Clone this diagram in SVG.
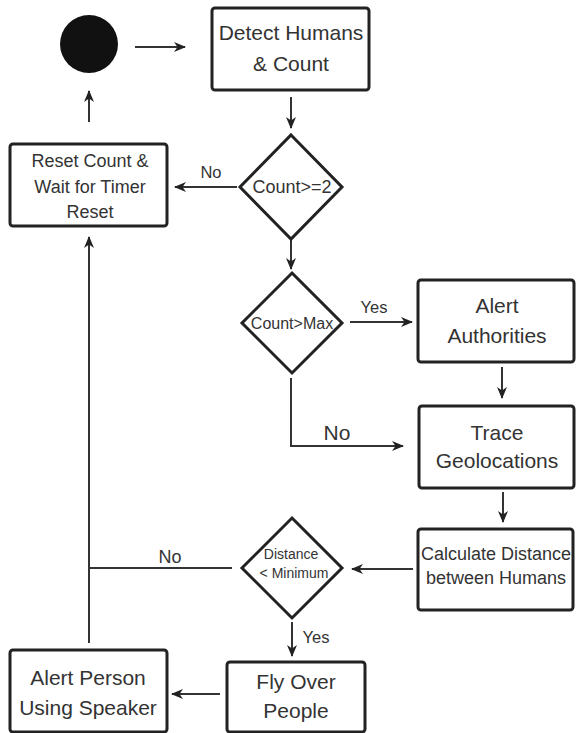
<svg xmlns="http://www.w3.org/2000/svg" width="576" height="733" viewBox="0 0 576 733">
  <style>
    .box { fill: #fff; stroke: #222; stroke-width: 3; }
    .dia { fill: #fff; stroke: #222; stroke-width: 3; stroke-linejoin: miter; }
    .conn { fill: none; stroke: #333; stroke-width: 2; }
    text { font-family: "Liberation Sans", Arial, sans-serif; fill: #333; text-anchor: middle; }
    .big { font-size: 21px; }
    .mid { font-size: 18px; }
    .lbl { font-size: 16.5px; }
  </style>
  <defs>
    <marker id="arrow" viewBox="0 0 12 10" refX="11" refY="5" markerWidth="12" markerHeight="10" markerUnits="userSpaceOnUse" orient="auto">
      <path d="M0,0 L12,5 L0,10 L3.5,5 z" fill="#222"/>
    </marker>
  </defs>

  <rect width="576" height="733" fill="#fff"/>

  <!-- connectors -->
  <g id="connectors">
    <line class="conn" x1="135" y1="47" x2="185" y2="47" marker-end="url(#arrow)"/>
    <line class="conn" x1="291" y1="97" x2="291" y2="128" marker-end="url(#arrow)"/>
    <line class="conn" x1="237" y1="187" x2="175" y2="187" marker-end="url(#arrow)"/>
    <line class="conn" x1="89" y1="122" x2="89" y2="91" marker-end="url(#arrow)"/>
    <line class="conn" x1="291" y1="239" x2="291" y2="269" marker-end="url(#arrow)"/>
    <line class="conn" x1="350" y1="322" x2="412" y2="322" marker-end="url(#arrow)"/>
    <path class="conn" d="M291,378 V446 H403" marker-end="url(#arrow)"/>
    <line class="conn" x1="502" y1="367" x2="502" y2="398" marker-end="url(#arrow)"/>
    <line class="conn" x1="503" y1="492" x2="503" y2="522" marker-end="url(#arrow)"/>
    <line class="conn" x1="413" y1="569" x2="352" y2="569" marker-end="url(#arrow)"/>
    <line class="conn" x1="232" y1="568" x2="89" y2="568"/>
    <line class="conn" x1="89" y1="643" x2="89" y2="237" marker-end="url(#arrow)"/>
    <line class="conn" x1="292" y1="622" x2="292" y2="656" marker-end="url(#arrow)"/>
    <line class="conn" x1="220" y1="694" x2="172" y2="694" marker-end="url(#arrow)"/>
    <text class="lbl" x="211" y="178">No</text>
    <text class="lbl" x="374" y="313">Yes</text>
    <text class="big" x="337" y="440">No</text>
    <text class="mid" x="170" y="563">No</text>
    <text class="lbl" x="316" y="643">Yes</text>
  </g>

  <g id="start">
    <circle cx="89" cy="44" r="29" fill="#111"/>
  </g>

  <g id="detect">
    <rect class="box" x="212" y="8" width="157" height="82" rx="3"/>
    <text class="big" x="291" y="40">Detect Humans</text>
    <text class="big" x="291" y="71">&amp; Count</text>
  </g>

  <g id="reset">
    <rect class="box" x="10" y="144" width="157" height="82" rx="3"/>
    <text class="mid" x="90" y="167">Reset Count &amp;</text>
    <text class="mid" x="90" y="193">Wait for Timer</text>
    <text class="mid" x="90" y="218">Reset</text>
  </g>

  <g id="count-min">
    <polygon class="dia" points="291,135 342,187 291,239 240,187"/>
    <text class="mid" x="292" y="193">Count&gt;=2</text>
  </g>

  <g id="count-max">
    <polygon class="dia" points="292,273 342,323 292,373 242,323"/>
    <text x="292" y="329" style="font-size:16px">Count&gt;Max</text>
  </g>

  <g id="alert-authorities">
    <rect class="box" x="418" y="280" width="156" height="82" rx="3"/>
    <text class="big" x="497" y="313">Alert</text>
    <text class="big" x="497" y="343">Authorities</text>
  </g>

  <g id="trace">
    <rect class="box" x="419" y="406" width="155" height="82" rx="3"/>
    <text class="big" x="497" y="440">Trace</text>
    <text class="big" x="497" y="468">Geolocations</text>
  </g>

  <g id="calculate">
    <rect class="box" x="418" y="529" width="155" height="81" rx="3"/>
    <text class="mid" x="496" y="560">Calculate Distance</text>
    <text class="mid" x="496" y="584">between Humans</text>
  </g>

  <g id="distance-check">
    <polygon class="dia" points="292,518 342,568 292,618 242,568"/>
    <text x="291" y="559" style="font-size:14px">Distance</text>
    <text x="294" y="578" style="font-size:14px">&lt; Minimum</text>
  </g>

  <g id="fly-over">
    <rect class="box" x="227" y="662" width="138" height="70" rx="3"/>
    <text class="big" x="296" y="689">Fly Over</text>
    <text class="big" x="296" y="718">People</text>
  </g>

  <g id="alert-person">
    <rect class="box" x="10" y="650" width="157" height="82" rx="3"/>
    <text class="big" x="88" y="685">Alert Person</text>
    <text class="big" x="88" y="715">Using Speaker</text>
  </g>
</svg>
